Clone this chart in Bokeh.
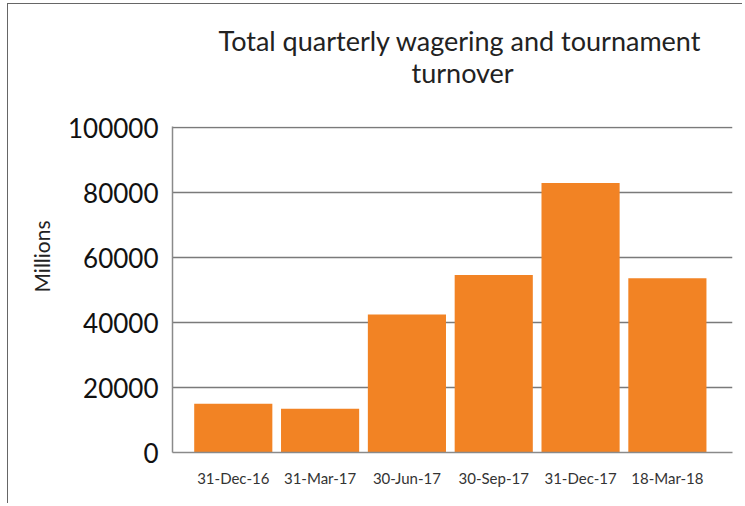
from bokeh.plotting import figure
from bokeh.models import Range1d, FixedTicker, Title, ColumnDataSource, BasicTickFormatter
from bokeh.embed import file_html
from bokeh.resources import INLINE

categories = ["31-Dec-16", "31-Mar-17", "30-Jun-17", "30-Sep-17", "31-Dec-17", "18-Mar-18"]
turnover = [15000, 13500, 42500, 54700, 83000, 53700]
y_ticks = [0, 20000, 40000, 60000, 80000, 100000]

FONT = "Lato"

xs = list(range(len(categories)))
source = ColumnDataSource(dict(x=xs, top=turnover))

p = figure(width=735, height=500, output_backend="svg", toolbar_location=None,
           x_range=Range1d(-0.70, 5.75), y_range=Range1d(0, 100400),
           min_border_left=164, min_border_right=11, min_border_top=122, min_border_bottom=52)
p.styles = {"margin-top": "3px", "margin-left": "7px",
            "border-top": "1.5px solid #666666", "border-left": "1.5px solid #666666"}

p.vbar(x="x", top="top", width=0.9, source=source, fill_color="#F28324", line_color=None)

p.title = None
p.add_layout(Title(text="turnover", align="left",
                   text_font=FONT, text_font_size="27px", text_font_style="normal",
                   text_color="#222222", offset=239, standoff=76), "above")
p.add_layout(Title(text="Total quarterly wagering and tournament", align="left",
                   text_font=FONT, text_font_size="27px", text_font_style="normal",
                   text_color="#222222", offset=46, standoff=-82), "above")

p.xaxis.ticker = FixedTicker(ticks=xs)
p.xaxis.major_label_overrides = {i: c for i, c in enumerate(categories)}
p.xaxis.major_tick_line_color = None
p.xaxis.minor_tick_line_color = None
p.xaxis.axis_line_color = "#8a8a8a"
p.xaxis.axis_line_width = 1.5
p.xaxis.major_label_text_font = FONT
p.xaxis.major_label_text_font_size = "15px"
p.xaxis.major_label_text_color = "#333333"
p.xaxis.major_label_standoff = 10

p.yaxis.ticker = FixedTicker(ticks=y_ticks)
p.yaxis.formatter = BasicTickFormatter(use_scientific=False)
p.yaxis.major_tick_line_color = None
p.yaxis.minor_tick_line_color = None
p.yaxis.axis_line_color = "#8a8a8a"
p.yaxis.axis_line_width = 1.5
p.yaxis.major_label_text_font = FONT
p.yaxis.major_label_text_font_size = "26px"
p.yaxis.major_label_text_color = "#111111"
p.yaxis.major_label_standoff = 8

p.add_layout(Title(text="Millions", align="left",
                   text_font=FONT, text_font_size="21px", text_font_style="normal",
                   text_color="#222222", offset=160, standoff=23), "left")

p.xgrid.grid_line_color = None
p.ygrid.ticker = FixedTicker(ticks=y_ticks)
p.ygrid.grid_line_color = "#7a7a7a"
p.ygrid.grid_line_width = 1.5
p.outline_line_color = None
p.background_fill_color = "white"
p.border_fill_color = "white"

open("out.html", "w").write(file_html(p, INLINE))
